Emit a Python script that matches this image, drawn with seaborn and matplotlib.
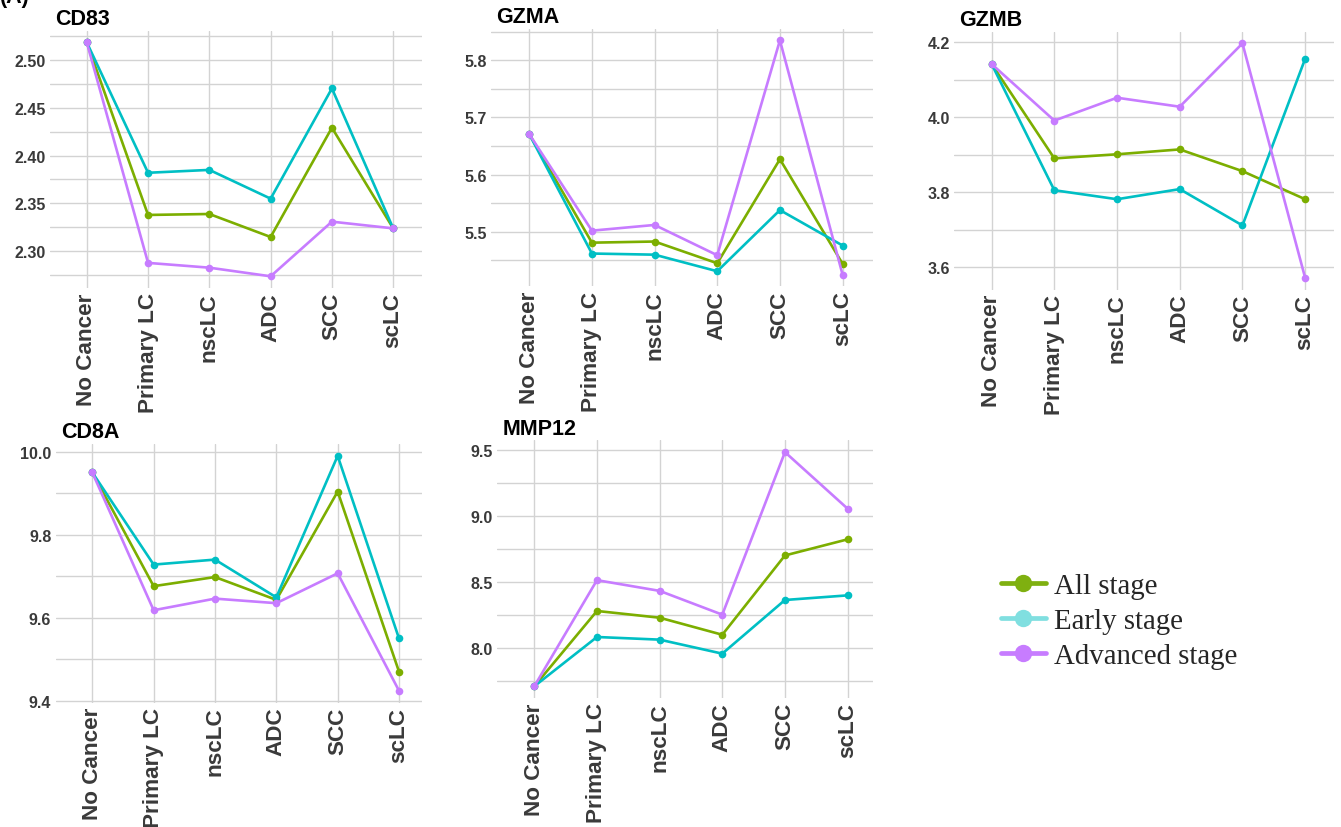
import matplotlib
matplotlib.use("Agg")
import matplotlib.pyplot as plt
from matplotlib.lines import Line2D
from matplotlib.ticker import MultipleLocator, AutoMinorLocator, FormatStrFormatter
import pandas as pd
import seaborn as sns

# ---- data -----------------------------------------------------------------
categories = ["No Cancer", "Primary LC", "nscLC", "ADC", "SCC", "scLC"]
stages = ["All stage", "Early stage", "Advanced stage"]

cd83_all = [2.518, 2.338, 2.339, 2.315, 2.429, 2.324]
cd83_early = [2.518, 2.382, 2.385, 2.355, 2.470, 2.324]
cd83_adv = [2.518, 2.288, 2.283, 2.274, 2.331, 2.324]

gzma_all = [5.671, 5.481, 5.483, 5.445, 5.627, 5.444]
gzma_early = [5.671, 5.462, 5.460, 5.431, 5.538, 5.476]
gzma_adv = [5.671, 5.502, 5.512, 5.459, 5.835, 5.425]

gzmb_all = [4.142, 3.890, 3.901, 3.914, 3.856, 3.781]
gzmb_early = [4.142, 3.805, 3.781, 3.808, 3.711, 4.156]
gzmb_adv = [4.142, 3.991, 4.052, 4.028, 4.197, 3.571]

cd8a_all = [9.950, 9.676, 9.698, 9.643, 9.904, 9.470]
cd8a_early = [9.950, 9.728, 9.740, 9.649, 9.990, 9.550]
cd8a_adv = [9.950, 9.618, 9.646, 9.635, 9.707, 9.424]

mmp12_all = [7.710, 8.280, 8.229, 8.100, 8.700, 8.822]
mmp12_early = [7.710, 8.083, 8.063, 7.957, 8.363, 8.398]
mmp12_adv = [7.710, 8.513, 8.432, 8.252, 9.482, 9.054]

genes = ["CD83", "GZMA", "GZMB", "CD8A", "MMP12"]
gene_values = {
    "CD83": (cd83_all, cd83_early, cd83_adv),
    "GZMA": (gzma_all, gzma_early, gzma_adv),
    "GZMB": (gzmb_all, gzmb_early, gzmb_adv),
    "CD8A": (cd8a_all, cd8a_early, cd8a_adv),
    "MMP12": (mmp12_all, mmp12_early, mmp12_adv),
}

# ---- styling ----------------------------------------------------------------
line_colors = ["#7CAE00", "#00BFC4", "#C77CFF"]
legend_colors = ["#7FB010", "#80DFE0", "#C77CFF"]
grid_color = "#D3D3D3"
tick_color = "#3A3A3A"

W, H = 1341, 828
sns.set_theme(style="white")
plt.rcParams["font.family"] = ["Liberation Sans", "DejaVu Sans"]

fig = plt.figure(figsize=(W / 100, H / 100), dpi=100)
fig.patch.set_facecolor("white")

# panel rectangles in pixels: left, top, right, bottom; plus x extent, y step, label format
panels = {
    "CD83": dict(rect=(50, 31.7, 421.7, 289.0), xlim=(-0.6, 5.465), step=0.05, fmt="%.2f"),
    "GZMA": dict(rect=(491, 29.6, 873.3, 287.4), xlim=(-0.61, 5.49), step=0.1, fmt="%.1f"),
    "GZMB": dict(rect=(954, 32.7, 1334, 290.6), xlim=(-0.6, 5.46), step=0.2, fmt="%.1f"),
    "CD8A": dict(rect=(55.5, 445.1, 421.7, 703.5), xlim=(-0.6, 5.37), step=0.2, fmt="%.1f"),
    "MMP12": dict(rect=(496.7, 441.4, 873.3, 699.0), xlim=(-0.6, 5.41), step=0.5, fmt="%.1f"),
}

for gene in genes:
    cfg = panels[gene]
    L, T, R, B = cfg["rect"]
    ax = fig.add_axes([L / W, 1 - B / H, (R - L) / W, (B - T) / H])

    rows = []
    for stage, vals in zip(stages, gene_values[gene]):
        for cat, v in zip(categories, vals):
            rows.append({"category": cat, "stage": stage, "value": v})
    df = pd.DataFrame(rows)

    sns.lineplot(
        data=df, x="category", y="value", hue="stage", hue_order=stages,
        palette=line_colors, marker="o", markersize=5.5, markeredgewidth=0,
        linewidth=1.9, sort=False, legend=False, ax=ax,
    )

    vmin, vmax = df["value"].min(), df["value"].max()
    pad = 0.05 * (vmax - vmin)
    ax.set_ylim(vmin - pad, vmax + pad)
    ax.set_xlim(*cfg["xlim"])

    ax.yaxis.set_major_locator(MultipleLocator(cfg["step"]))
    ax.yaxis.set_minor_locator(AutoMinorLocator(2))
    ax.yaxis.set_major_formatter(FormatStrFormatter(cfg["fmt"]))

    ax.set_axisbelow(True)
    ax.grid(which="major", color=grid_color, linewidth=1.0)
    ax.grid(which="minor", axis="y", color=grid_color, linewidth=1.0)
    for s in ax.spines.values():
        s.set_visible(False)
    ax.set_facecolor("white")
    ax.set_xlabel("")
    ax.set_ylabel("")

    ax.tick_params(axis="both", which="both", length=0)
    ax.tick_params(axis="y", pad=3, labelsize=11.5, labelcolor=tick_color)
    ax.tick_params(axis="x", pad=3, labelsize=16.2, labelcolor=tick_color)
    for lab in ax.get_yticklabels():
        lab.set_fontweight("bold")
    for lab in ax.get_xticklabels():
        lab.set_fontweight("bold")
        lab.set_rotation(90)

    fig.text((L + 5.5) / W, 1 - (T - 6.8) / H, gene, fontsize=15.5,
             fontweight="bold", color="black", ha="left", va="baseline")

# panel tag at the top-left corner
fig.text(0.0, 1 - 3.5 / H, "(A)", fontsize=15.5, fontweight="bold",
         color="black", ha="left", va="baseline")

# legend
handles = [Line2D([], [], color=c, lw=3.4, marker="o", markersize=12.5,
                  markeredgewidth=0) for c in legend_colors]
fig.legend(
    handles, stages, loc="upper left",
    bbox_to_anchor=(1001 / W, 1 - 574 / H), frameon=False,
    prop={"family": ["Liberation Serif", "DejaVu Serif"], "size": 20.8},
    handlelength=1.55, handletextpad=0.3, labelspacing=0.3,
    borderpad=0, borderaxespad=0,
)

fig.savefig("out.png", dpi=100, facecolor="white")
